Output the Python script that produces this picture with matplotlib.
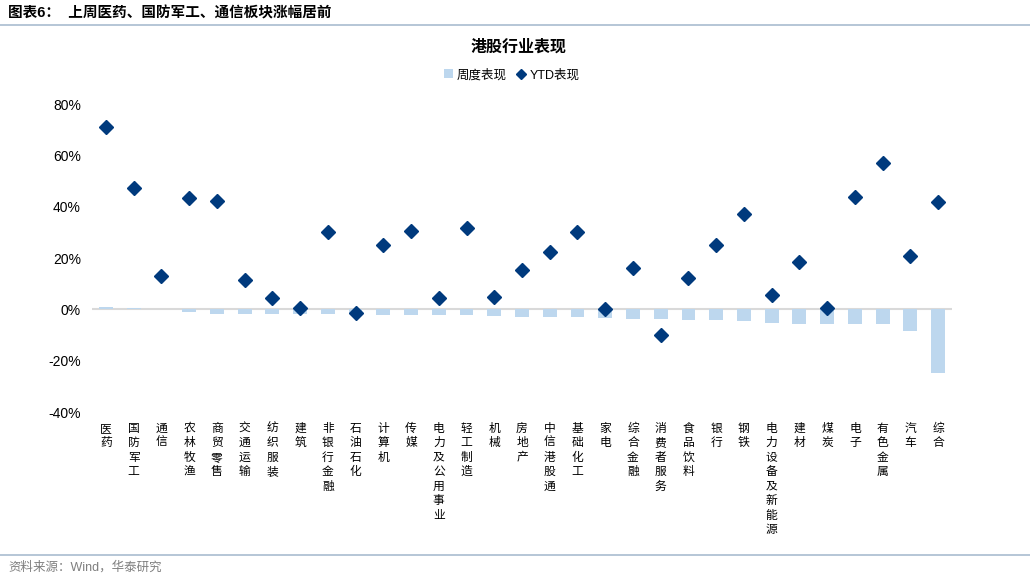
import matplotlib
matplotlib.use("Agg")
import matplotlib.pyplot as plt
from matplotlib.lines import Line2D
from matplotlib.patches import Patch
import numpy as np

plt.rcParams['font.family'] = ['Liberation Sans', 'Noto Sans CJK SC', 'DejaVu Sans']

# 行业
categories = ["医药", "国防军工", "通信", "农林牧渔", "商贸零售", "交通运输", "纺织服装",
              "建筑", "非银行金融", "石油石化", "计算机", "传媒", "电力及公用事业", "轻工制造",
              "机械", "房地产", "中信港股通", "基础化工", "家电", "综合金融", "消费者服务",
              "食品饮料", "银行", "钢铁", "电力设备及新能源", "建材", "煤炭", "电子",
              "有色金属", "汽车", "综合"]
# 周度表现 (%)
weekly = [1.0, 0.7, 0.1, -1.2, -1.8, -1.8, -1.8, -1.8, -1.9, -2.0, -2.1, -2.1, -2.4,
          -2.4, -2.5, -2.9, -2.9, -3.1, -3.4, -3.7, -3.9, -4.3, -4.3, -4.7, -5.3,
          -5.6, -5.8, -5.8, -5.9, -8.6, -24.7]
# YTD表现 (%)
ytd = [71.0, 47.4, 12.8, 43.5, 42.3, 11.3, 4.3, 0.4, 30.3, -1.6, 24.9, 30.7, 4.3,
       31.5, 5.0, 15.5, 22.5, 30.0, 0.0, 16.0, -10.0, 12.4, 25.2, 37.3, 5.4, 18.6,
       0.4, 43.9, 57.0, 20.6, 41.9]

bar_color = "#BDD7EE"
dot_color = "#003A7D"

fig = plt.figure(figsize=(10.3, 5.8), dpi=100)
ax = fig.add_axes([92 / 1030, 1 - 412 / 580, 860 / 1030, 308 / 580])

x = np.arange(len(categories))
ax.bar(x, np.array(weekly) / 100, width=0.5, color=bar_color, zorder=2)
ax.plot(x, np.array(ytd) / 100, linestyle="none", marker="D", markersize=7.5,
        color=dot_color, zorder=3)
ax.axhline(0, color="#D9D9D9", linewidth=1.5, zorder=1)

ax.set_xlim(-0.5, len(categories) - 0.5)
ax.set_ylim(-0.4, 0.8)
ax.set_yticks(np.arange(-0.4, 0.81, 0.2))
ax.set_yticklabels([f"{v:.0f}%" for v in np.arange(-40, 81, 20)], fontsize=10)
ax.tick_params(axis="y", length=0, pad=8)
ax.set_xticks([])
for s in ax.spines.values():
    s.set_visible(False)

# 竖排行业名
for i, name in enumerate(categories):
    ax.annotate("\n".join(name), xy=(i, -0.4), xytext=(0, -7),
                textcoords="offset points", ha="center", va="top",
                fontsize=8.5, linespacing=1.15, family=['Noto Sans CJK SC'])

fig.text(0.503, 1 - 47 / 580, "港股行业表现", ha="center", va="center",
         fontsize=11.5, fontweight="bold")

handles = [Patch(facecolor=bar_color, edgecolor="none"),
           Line2D([], [], linestyle="none", marker="D", markersize=5, color=dot_color)]
fig.legend(handles, ["周度表现", "YTD表现"], loc="center", bbox_to_anchor=(0.497, 1 - 75 / 580),
           ncol=2, frameon=False, fontsize=9, handlelength=0.7, handletextpad=0.3,
           columnspacing=0.8)

# 页眉和页脚
fig.text(8 / 1030, 1 - 13 / 580, "图表6：  上周医药、国防军工、通信板块涨幅居前", ha="left", va="center",
         fontsize=10.5, fontweight="bold")
fig.add_artist(Line2D([0, 1], [1 - 25 / 580, 1 - 25 / 580], color="#A9BCD0", linewidth=1.2))
fig.add_artist(Line2D([0, 1], [1 - 555 / 580, 1 - 555 / 580], color="#A9BCD0", linewidth=1.2))
fig.text(8 / 1030, 1 - 567 / 580, "资料来源：Wind，华泰研究", ha="left", va="center",
         fontsize=9, color="#7F7F7F")

fig.savefig("out.png", dpi=100)
